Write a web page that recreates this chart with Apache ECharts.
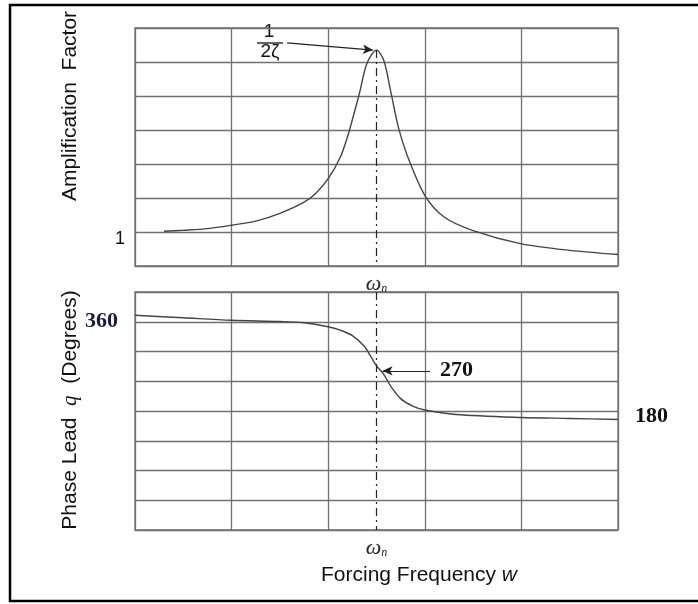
<!DOCTYPE html>
<html>
<head>
<meta charset="utf-8">
<title>Amplification Factor / Phase Lead</title>
<script src="https://cdn.jsdelivr.net/npm/echarts@6/dist/echarts.min.js"></script>
<style>
    html, body { margin: 0; padding: 0; background: #fff; }
    #chart { width: 698px; height: 604px; }
</style>
</head>
<body>
<div id="chart"></div>
<script>
// 放大系数曲线 (横轴为 ω/ωn)
const ampFreq = [0.12, 0.2, 0.3, 0.4, 0.5, 0.6, 0.7, 0.75, 0.8, 0.85, 0.88, 0.9, 0.93, 0.96, 1.0, 1.03, 1.06, 1.09, 1.13, 1.2, 1.28, 1.4, 1.6, 1.8, 2.0]
const ampValues = [1.02, 1.05, 1.1, 1.2, 1.32, 1.55, 1.88, 2.15, 2.57, 3.2, 3.8, 4.3, 5.1, 5.95, 6.35, 6.05, 5.1, 4.1, 3.2, 2.08, 1.44, 1.04, 0.65, 0.46, 0.34]

// 相位超前曲线 (度)
const phaseFreq = [0, 0.2, 0.4, 0.6, 0.7, 0.8, 0.85, 0.9, 0.95, 0.98, 1.0, 1.03, 1.06, 1.1, 1.15, 1.2, 1.33, 1.6, 1.8, 2.0]
const phaseValues = [373, 368, 363, 360.5, 358, 350, 343, 332, 310, 287, 271, 254, 229, 205, 190, 182, 173, 167, 165, 163]

// 刻度标签
const ampTickLabels = ['1']
const phaseLeftLabels = ['360']
const phaseRightLabels = ['180']
const naturalFreq = 1.0
const peakLabel = ['1', '2ζ']
const phaseMidLabel = '270'

const gridColor = '#707070'
const curveColor = '#444'
const dashDot = [8, 4, 2, 4]

const toPairs = (xs, ys) => xs.map((x, i) => [x, ys[i]])
const peakAmp = Math.max(...ampValues)

const omegaLabel = {
    customValues: [naturalFreq],
    formatter: () => '{w|ω}{n|n}',
    margin: 7,
    rich: {
        w: { fontFamily: 'Liberation Serif', fontStyle: 'italic', fontSize: 22, color: '#222' },
        n: { fontFamily: 'Liberation Serif', fontStyle: 'italic', fontSize: 12, color: '#222', padding: [10, 0, 0, 0] },
    },
}

const chart = echarts.init(document.getElementById('chart'))

const option = {
    backgroundColor: '#fff',
    animation: false,
    grid: [
        { left: 135, top: 28, width: 483, height: 238, show: true, borderColor: gridColor, borderWidth: 1.3 },
        { left: 135, top: 292, width: 483, height: 238, show: true, borderColor: gridColor, borderWidth: 1.3 },
    ],
    xAxis: [
        {
            gridIndex: 0, type: 'value', min: 0, max: 2, interval: 0.4,
            axisLine: { show: false }, axisTick: { show: false },
            splitLine: { lineStyle: { color: gridColor, width: 1.3 } },
            axisLabel: omegaLabel,
        },
        {
            gridIndex: 1, type: 'value', min: 0, max: 2, interval: 0.4,
            axisLine: { show: false }, axisTick: { show: false },
            splitLine: { lineStyle: { color: gridColor, width: 1.3 } },
            axisLabel: omegaLabel,
        },
    ],
    yAxis: [
        {
            gridIndex: 0, type: 'value', min: 0, max: 7, interval: 1,
            axisLine: { show: false }, axisTick: { show: false },
            splitLine: { lineStyle: { color: gridColor, width: 1.3 } },
            axisLabel: {
                formatter: (v) => (ampTickLabels.includes(String(v)) ? String(v) : ''),
                fontFamily: 'Liberation Sans', fontSize: 18, color: '#111',
                margin: 10, verticalAlign: 'top', lineHeight: 15,
            },
        },
        {
            gridIndex: 1, type: 'value', min: -60, max: 420, interval: 60,
            axisLine: { show: false }, axisTick: { show: false },
            splitLine: { lineStyle: { color: gridColor, width: 1.3 } },
            axisLabel: {
                formatter: (v) => (phaseLeftLabels.includes(String(v)) ? String(v) : ''),
                fontFamily: 'Liberation Serif', fontWeight: 'bold', fontSize: 22, color: '#1c1c3a',
                margin: 17,
            },
        },
        {
            gridIndex: 1, type: 'value', position: 'right', min: -60, max: 420, interval: 60,
            axisLine: { show: false }, axisTick: { show: false }, splitLine: { show: false },
            axisLabel: {
                formatter: (v) => (phaseRightLabels.includes(String(v)) ? String(v) : ''),
                fontFamily: 'Liberation Serif', fontWeight: 'bold', fontSize: 22, color: '#111',
                margin: 17, verticalAlign: 'top', lineHeight: 10,
            },
        },
    ],
    series: [
        {
            name: 'Amplification Factor',
            type: 'line',
            xAxisIndex: 0,
            yAxisIndex: 0,
            data: toPairs(ampFreq, ampValues),
            smooth: 0.3,
            showSymbol: false,
            lineStyle: { color: curveColor, width: 1.4 },
            markLine: {
                silent: true,
                label: { show: false },
                data: [
                    [
                        { coord: [naturalFreq, peakAmp], symbol: 'none', lineStyle: { color: '#222', width: 1.2, type: dashDot } },
                        { coord: [naturalFreq, 0], symbol: 'none' },
                    ],
                    [
                        { coord: [0.63, 6.56], symbol: 'none', lineStyle: { color: '#222', width: 1.2, type: 'solid' } },
                        { coord: [0.985, 6.35], symbol: 'arrow', symbolSize: [7, 10] },
                    ],
                ],
            },
        },
        {
            name: 'Phase Lead',
            type: 'line',
            xAxisIndex: 1,
            yAxisIndex: 1,
            data: toPairs(phaseFreq, phaseValues),
            smooth: 0.3,
            showSymbol: false,
            lineStyle: { color: curveColor, width: 1.4 },
            markLine: {
                silent: true,
                label: { show: false },
                data: [
                    [
                        { coord: [naturalFreq, 420], symbol: 'none', lineStyle: { color: '#222', width: 1.2, type: dashDot } },
                        { coord: [naturalFreq, -60], symbol: 'none' },
                    ],
                    [
                        { coord: [1.222, 261], symbol: 'none', lineStyle: { color: '#222', width: 1.2, type: 'solid' } },
                        { coord: [1.025, 261], symbol: 'arrow', symbolSize: [7, 10] },
                    ],
                ],
            },
        },
    ],
    graphic: [
        // 外框
        {
            type: 'rect', z: 100,
            shape: { x: 10, y: 5, width: 720, height: 596 },
            style: { fill: 'none', stroke: '#000', lineWidth: 2.5 },
        },
        // 轴标题
        {
            type: 'text', x: 70, y: 106, rotation: Math.PI / 2,
            style: { text: 'Amplification  Factor', font: '21px "Liberation Sans"', fill: '#111', textAlign: 'center', textVerticalAlign: 'middle' },
        },
        {
            type: 'text', x: 70, y: 410, rotation: Math.PI / 2,
            style: {
                text: 'Phase Lead  {i|q}  (Degrees)',
                font: '21px "Liberation Sans"', fill: '#111', textAlign: 'center', textVerticalAlign: 'middle',
                rich: { i: { fontFamily: 'Liberation Serif', fontStyle: 'italic', fontSize: 21, fill: '#111' } },
            },
        },
        {
            type: 'text', x: 419, y: 575,
            style: {
                text: 'Forcing Frequency {i|w}',
                font: '21px "Liberation Sans"', fill: '#111', textAlign: 'center', textVerticalAlign: 'middle',
                rich: { i: { fontFamily: 'Liberation Sans', fontStyle: 'italic', fontSize: 21, fill: '#111' } },
            },
        },
        // 峰值标注 1/(2ζ)
        {
            type: 'text', x: 269, y: 32,
            style: { text: peakLabel[0], font: '19px "Liberation Sans"', fill: '#111', textAlign: 'center', textVerticalAlign: 'middle' },
        },
        {
            type: 'line', shape: { x1: 257, y1: 43, x2: 283, y2: 43 },
            style: { stroke: '#111', lineWidth: 1.3 },
        },
        {
            type: 'text', x: 270, y: 52,
            style: { text: peakLabel[1], font: '19px "Liberation Sans"', fill: '#111', textAlign: 'center', textVerticalAlign: 'middle' },
        },
        // 270 标注
        {
            type: 'text', x: 440, y: 370,
            style: { text: phaseMidLabel, font: 'bold 22px "Liberation Serif"', fill: '#111', textAlign: 'left', textVerticalAlign: 'middle' },
        },
    ],
}

chart.setOption(option)
window.addEventListener('resize', () => chart.resize())
</script>
</body>
</html>
